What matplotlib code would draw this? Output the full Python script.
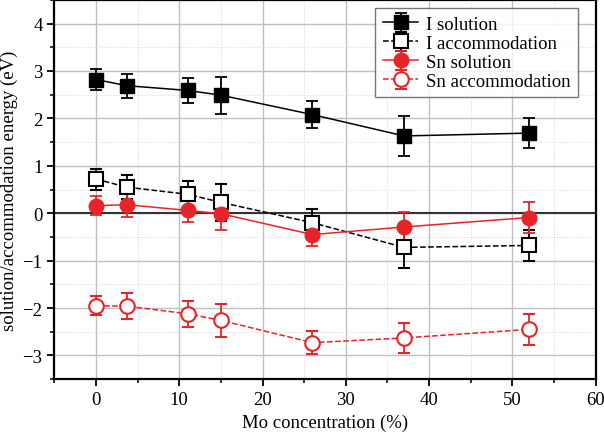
import numpy as np
import matplotlib.pyplot as plt
from matplotlib.ticker import MultipleLocator

plt.rcParams['font.family'] = ['Liberation Serif', 'DejaVu Serif']
plt.rcParams['mathtext.fontset'] = 'stix'

# Mo concentration (%)
mo = [0, 3.7, 11, 15, 26, 37, 52]

# energies (eV) and error bars
i_sol = [2.82, 2.69, 2.59, 2.49, 2.08, 1.63, 1.69]
i_sol_err = [0.22, 0.25, 0.27, 0.39, 0.28, 0.43, 0.32]
i_acc = [0.72, 0.55, 0.40, 0.23, -0.20, -0.72, -0.68]
i_acc_err = [0.22, 0.25, 0.27, 0.39, 0.28, 0.43, 0.32]
sn_sol = [0.16, 0.18, 0.06, -0.01, -0.45, -0.29, -0.09]
sn_sol_err = [0.20, 0.26, 0.24, 0.34, 0.24, 0.31, 0.33]
sn_acc = [-1.95, -1.96, -2.12, -2.26, -2.73, -2.63, -2.45]
sn_acc_err = [0.20, 0.27, 0.27, 0.35, 0.24, 0.32, 0.33]

red = '#e8242b'

fig, ax = plt.subplots(figsize=(6.04, 4.35), dpi=100)
fig.subplots_adjust(left=0.09, right=0.986, top=0.998, bottom=0.126)

ax.axhline(0, color='#333333', linewidth=1.5, zorder=1)

common = dict(capsize=4, elinewidth=1.3, capthick=1.3, linewidth=1.1, zorder=3)
ax.errorbar(mo, i_sol, yerr=i_sol_err, color='black', marker='s', ms=9.5,
            mfc='black', mec='black', label='I solution', **common)
ax.errorbar(mo, i_acc, yerr=i_acc_err, color='black', marker='s', ms=9.5,
            mfc='white', mec='black', mew=1.5, ls='--', label='I accommodation', **common)
ax.errorbar(mo, sn_sol, yerr=sn_sol_err, color=red, marker='o', ms=10.5,
            mfc=red, mec=red, label='Sn solution', **common)
ax.errorbar(mo, sn_acc, yerr=sn_acc_err, color=red, marker='o', ms=10.5,
            mfc='white', mec=red, mew=1.5, ls='--', label='Sn accommodation', **common)

ax.set_xlim(-5, 60)
ax.set_ylim(-3.5, 4.5)
ax.xaxis.set_major_locator(MultipleLocator(10))
ax.xaxis.set_minor_locator(MultipleLocator(5))
ax.yaxis.set_major_locator(MultipleLocator(1))
ax.yaxis.set_minor_locator(MultipleLocator(0.5))
ax.set_yticks([-3, -2, -1, 0, 1, 2, 3, 4])
ax.set_yticklabels(['\u22123', '\u22122', '\u22121', '0', '1', '2', '3', '4'])

ax.grid(True, which='major', color='#c0c0c0', linewidth=1.0, zorder=0)
ax.grid(True, which='minor', color='#d8d8d8', linewidth=0.7, linestyle=':', zorder=0)
ax.set_axisbelow(True)

ax.tick_params(which='major', direction='out', length=5, width=1.3, labelsize=13.5,
               top=False, right=False)
ax.tick_params(which='minor', direction='out', length=3, width=1.1, top=False, right=False)
for s in ax.spines.values():
    s.set_linewidth(1.6)

ax.set_xlabel('Mo concentration (%)', fontsize=13.5)
ax.set_ylabel('solution/accommodation energy (eV)', fontsize=13.5, labelpad=3)

leg = ax.legend(loc='upper right', bbox_to_anchor=(0.978, 0.993), fontsize=13.5,
                frameon=True, fancybox=False, edgecolor='#555555',
                handlelength=1.9, handletextpad=0.4, labelspacing=0.1,
                borderpad=0.4, borderaxespad=0.3)
leg.get_frame().set_linewidth(1.0)

plt.savefig('out.png', dpi=100)
